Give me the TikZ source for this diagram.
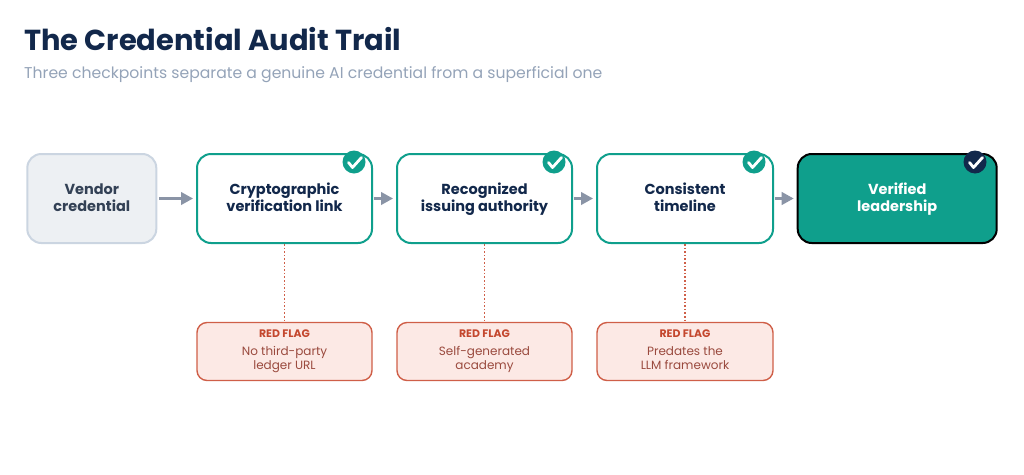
\documentclass[tikz,border=0pt]{standalone}
\usepackage{fontspec}
\setmainfont{Poppins}
\usetikzlibrary{arrows.meta}
\definecolor{navy}{HTML}{12284B}
\definecolor{teal}{HTML}{0F9F8C}
\definecolor{slatetx}{HTML}{334155}
\definecolor{greyfill}{HTML}{EDF0F3}
\definecolor{greyline}{HTML}{CBD5E1}
\definecolor{arrowc}{HTML}{8A94A6}
\definecolor{subt}{HTML}{94A3B8}
\definecolor{redl}{HTML}{CF5F48}
\definecolor{redf}{HTML}{FCE9E5}
\definecolor{redt}{HTML}{C4472E}
\definecolor{redb}{HTML}{9A4A3E}
\tikzset{
 x=1pt,y=-1pt,
 boxbase/.style={rectangle,rounded corners=14pt,line width=2pt,align=center,inner sep=0pt,
   font=\fontsize{14.5}{17.5}\selectfont\bfseries},
 startbox/.style={boxbase,draw=greyline,fill=greyfill,text=slatetx},
 checkbox/.style={boxbase,draw=teal,fill=white,text=navy},
 finalbox/.style={boxbase,draw=black,fill=teal,text=white},
 flagbox/.style={rectangle,rounded corners=10pt,line width=1.4pt,draw=redl,fill=redf,text=redb,align=center,inner sep=0pt,
   font=\fontsize{12}{14}\selectfont},
 flow/.style={draw=arrowc,line width=2.6pt,-{Triangle[length=12pt,width=12.5pt]}},
 link/.style={draw=redl,line width=1.3pt,dash pattern=on 1.6pt off 2pt},
 badge/.style={circle,minimum size=23pt,inner sep=0pt},
 tick/.style={draw=white,line width=2.8pt,line cap=round,line join=round},
}
\newcommand{\twolines}[2]{\rule{0pt}{13pt}#1\\#2\rule[-4pt]{0pt}{4pt}}
\newcommand{\flagtext}[2]{\rule{0pt}{9pt}{\color{redt}\fontsize{10.9}{14}\selectfont\bfseries RED FLAG}\\[3.5pt]#1\\#2\rule[-5pt]{0pt}{5pt}}
\newcommand{\tickmark}[1]{\draw[tick] ([shift={(-5.5pt,-0.5pt)}]#1.center) -- ([shift={(-1.5pt,-5.5pt)}]#1.center) -- ([shift={(7.5pt,4.5pt)}]#1.center);}
\begin{document}
\begin{tikzpicture}
\useasboundingbox (0,0) rectangle (1024,474);
\node[anchor=base west,inner sep=0pt,text=navy,font=\fontsize{28.9}{32}\selectfont\bfseries] (title) at (24,50.5) {The Credential Audit Trail};
\node[anchor=base west,inner sep=0pt,text=subt,font=\fontsize{15.65}{18}\selectfont] (sub) at (24,78.3) {Three checkpoints separate a genuine AI credential from a superficial one};

\node[startbox,minimum width=129pt,minimum height=89pt] (v) at (91.8,198.5) {\twolines{Vendor}{credential}};
\node[checkbox,minimum width=175pt,minimum height=89pt] (a) at (284.5,198.5) {\twolines{Cryptographic}{verification link}};
\node[checkbox,minimum width=175pt,minimum height=89pt] (b) at (484.5,198.5) {\twolines{Recognized}{issuing authority}};
\node[checkbox,minimum width=176pt,minimum height=89pt] (c) at (685,198.5) {\twolines{Consistent}{timeline}};
\node[finalbox,minimum width=199pt,minimum height=89pt] (d) at (897.2,198.5) {\twolines{Verified}{leadership}};

\draw[flow] (v.east) ++(1.5pt,0) coordinate (v1) (v1) -- ([xshift=-3pt]a.west);
\draw[flow] (a.east) ++(1pt,0) coordinate (a1) (a1) -- ([xshift=-3pt]b.west);
\draw[flow] (b.east) ++(1pt,0) coordinate (b1) (b1) -- ([xshift=-3pt]c.west);
\draw[flow] (c.east) ++(1pt,0) coordinate (c1) (c1) -- ([xshift=-3pt]d.west);

\node[flagbox,minimum width=175pt,minimum height=58pt] (fa) at (284.5,351.5) {\flagtext{No third-party}{ledger URL}};
\node[flagbox,minimum width=175pt,minimum height=58pt] (fb) at (484.5,351.5) {\flagtext{Self-generated}{academy}};
\node[flagbox,minimum width=176pt,minimum height=58pt] (fc) at (685,351.5) {\flagtext{Predates the}{LLM framework}};
\draw[link] (a.south) -- (fa.north);
\draw[link] (b.south) -- (fb.north);
\draw[link] (c.south) -- (fc.north);

\node[badge,fill=teal] (ca) at (354,162) {};
\node[badge,fill=teal] (cb) at (554,162) {};
\node[badge,fill=teal] (cc) at (754,162) {};
\node[badge,fill=navy] (cd) at (975,162) {};
\tickmark{ca}\tickmark{cb}\tickmark{cc}\tickmark{cd}
\end{tikzpicture}
\end{document}
